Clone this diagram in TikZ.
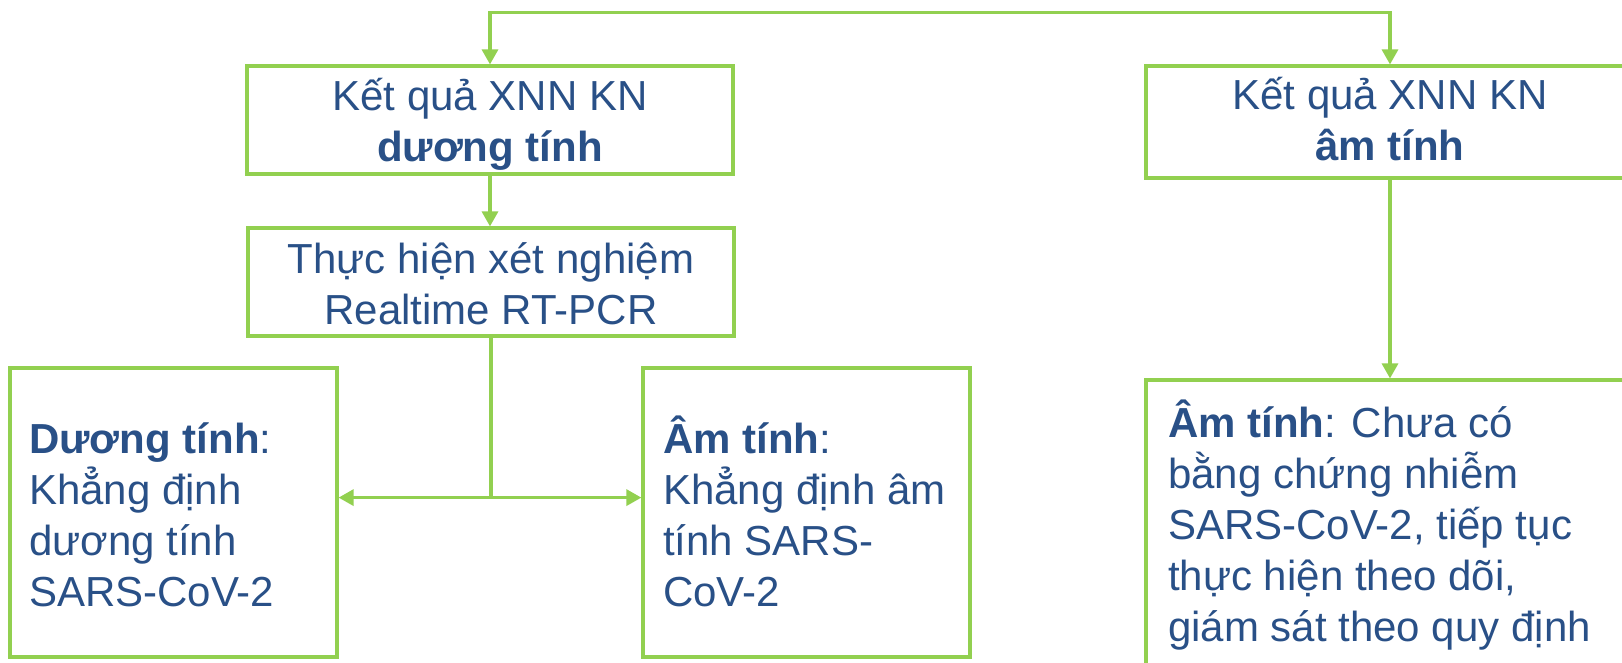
\documentclass[tikz,border=0pt]{standalone}
\usepackage{fontspec}
\setmainfont{Liberation Sans}
\usetikzlibrary{arrows.meta}
\definecolor{boxgreen}{RGB}{146,208,80}
\definecolor{textblue}{RGB}{41,80,135}
\begin{document}
\begin{tikzpicture}[x=1pt,y=-1pt,
  box/.style={draw=boxgreen, line width=3.2pt, inner sep=0pt},
  txt/.style={text=textblue, font=\fontsize{42}{51}\selectfont, inner sep=0pt},
  wire/.style={draw=boxgreen, line width=3.2pt},
  tip/.style={},
  link/.style={wire, -{Triangle[width=16pt,length=15pt]}},
  dlink/.style={wire, {Triangle[width=16pt,length=15pt]}-{Triangle[width=16pt,length=15pt]}},
]
\useasboundingbox (0,0) rectangle (1622,662);
\clip (0,0) rectangle (1622,662);

% frames
\node[box, minimum width=486pt, minimum height=108pt] (b1) at (490,120) {};
\node[box, minimum width=486pt, minimum height=108pt] (b2) at (491,282) {};
\node[box, minimum width=327pt, minimum height=289pt] (b3) at (173.5,512.5) {};
\node[box, minimum width=327pt, minimum height=289pt] (b4) at (806.5,512.5) {};
\node[box, minimum width=488pt, minimum height=112pt] (b5) at (1390,122) {};
\node[box, minimum width=488pt, minimum height=310pt] (b6) at (1390,535) {};

% texts (placed by the baseline of their last line)
\node[txt, anchor=base, align=center] (t1) at (490,161)
  {Kết quả XNN KN\\\textbf{dương tính}};
\node[txt, anchor=base, align=center] (t2) at (491,324)
  {Thực hiện xét nghiệm\\Realtime RT-PCR};
\node[txt, anchor=base west, align=left] (t3) at (29,606)
  {\textbf{Dương tính}:\\Khẳng định\\dương tính\\SARS-CoV-2};
\node[txt, anchor=base west, align=left] (t4) at (663,606)
  {\textbf{Âm tính}:\\Khẳng định âm\\tính SARS-\\CoV-2};
\node[txt, anchor=base, align=center] (t5) at (1390,160)
  {Kết quả XNN KN\\\textbf{âm tính}};
\node[txt, anchor=base west, align=left] (t6) at (1168,641)
  {\textbf{Âm tính}: Chưa có\\bằng chứng nhiễm\\SARS-CoV-2, tiếp tục\\thực hiện theo dõi,\\giám sát theo quy định};

% connectors
\draw[dlink] (b1.north) -- ++(0,-52) -| (b5.north);
\draw[link] (b1.south) -- (b1.south |- b2.north);
\path (b2.south) ++(0,160) coordinate (j);
\draw[wire] (b2.south) -- (j);
\draw[link] (j) -- (j -| b3.east);
\draw[link] (j) -- (j -| b4.west);
\draw[link] (b5.south) -- (b6.north);
\end{tikzpicture}
\end{document}
